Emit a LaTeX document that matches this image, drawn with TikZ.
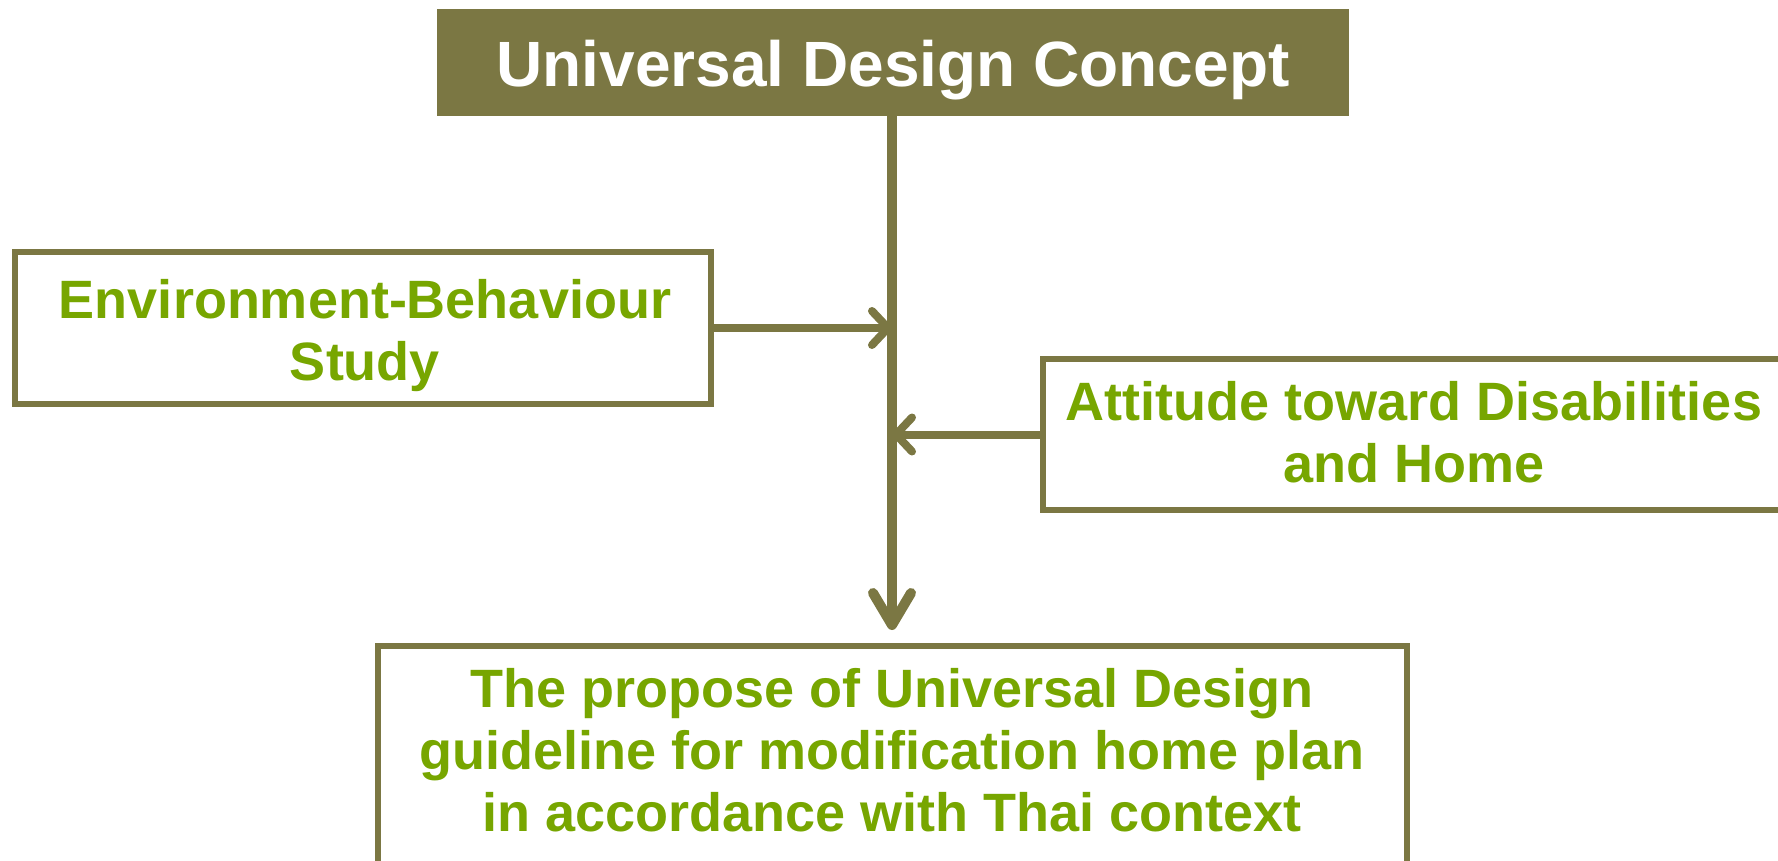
\documentclass[tikz,border=0pt]{standalone}
\usepackage{fontspec}
\setmainfont{Liberation Sans}
\usetikzlibrary{arrows.meta}
\definecolor{olive}{RGB}{123,119,67}
\definecolor{leaf}{RGB}{119,166,0}
\tikzset{
  box/.style={draw=olive, line width=6.5pt, fill=white, inner sep=0pt},
  lbl/.style={text=leaf, font=\bfseries\fontsize{54}{62}\selectfont, align=center, inner sep=0pt},
  hconn/.style={draw=olive, line width=8pt, -{Straight Barb[length=16pt,width=34pt,line cap=round,line join=round]}},
  vconn/.style={draw=olive, line width=10pt, -{Straight Barb[length=32pt,width=38pt,line cap=round,line join=round]}}
}
\begin{document}
\begin{tikzpicture}[x=1pt,y=-1pt]
\useasboundingbox (0,0) rectangle (1778,861);
% top box
\node[fill=olive, minimum width=912pt, minimum height=107pt, inner sep=0pt,
      text height=49pt, text depth=0pt,
      text=white, font=\bfseries\fontsize{64}{70}\selectfont] (top) at (893,62.5) {Universal Design Concept};
% boxes
\node[box, minimum width=696pt, minimum height=152pt] (envbox) at (363,328) {};
\node[box, minimum width=742pt, minimum height=151pt] (attbox) at (1414,434.5) {};
\node[box, minimum width=1029pt, minimum height=230pt] (propbox) at (892.5,761) {};
% labels
\node[lbl] (envlbl) at (365,336) {Environment-Behaviour\\Study};
\node[lbl] (attlbl) at (1414,432) {Attitude toward Disabilities\\and Home};
\node[lbl] (proplbl) at (892,750) {The propose of Universal Design\\guideline for modification home plan\\in accordance with Thai context};
% connectors
\coordinate (tip) at (892,630);
\draw[vconn] (top.south -| tip) -- (tip);
\draw[hconn] (envbox.east) -- (envbox.east -| tip);
\draw[hconn] (attbox.west) -- (attbox.west -| tip);
\end{tikzpicture}
\end{document}
